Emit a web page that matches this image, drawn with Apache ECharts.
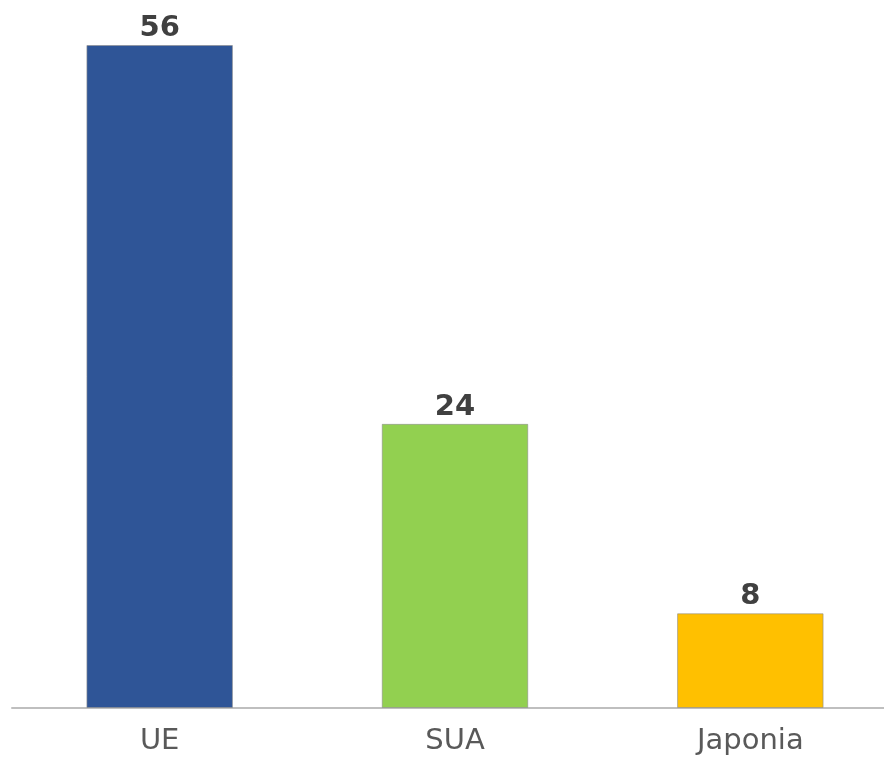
<!DOCTYPE html>
<html><head><meta charset="utf-8">
<script src="https://cdn.jsdelivr.net/npm/echarts@6/dist/echarts.min.js"></script>
<style>html,body{margin:0;padding:0;background:#fff;overflow:hidden}#c{width:898px;height:757px}</style>
</head><body><div id="c"></div>
<script>
const categories = ['UE', 'SUA', 'Japonia'];
const values = [56, 24, 8];
const colors = ['#2F5597', '#92D050', '#FFC000'];

const chart = echarts.init(document.getElementById('c'), null, {renderer: 'canvas'});
chart.setOption({
  animation: false,
  grid: {left: 12, right: 0, top: 45, bottom: 49, containLabel: false},
  xAxis: {
    type: 'category',
    data: categories,
    axisLine: {lineStyle: {color: '#BFBFBF', width: 2}},
    axisTick: {show: false},
    axisLabel: {color: '#595959', fontFamily: 'DejaVu Sans', fontSize: 29, margin: 19}
  },
  yAxis: {
    type: 'value', min: 0, max: 56,
    show: false, splitLine: {show: false}
  },
  series: [{
    type: 'bar',
    barWidth: '49.6%',
    data: values.map((v, i) => ({value: v, itemStyle: {color: colors[i]}})),
    itemStyle: {borderColor: 'rgba(140,140,140,0.6)', borderWidth: 1},
    label: {
      show: true, position: 'top', distance: 2,
      color: '#404040', fontFamily: 'DejaVu Sans', fontWeight: 'bold', fontSize: 29
    }
  }]
});
</script></body></html>
